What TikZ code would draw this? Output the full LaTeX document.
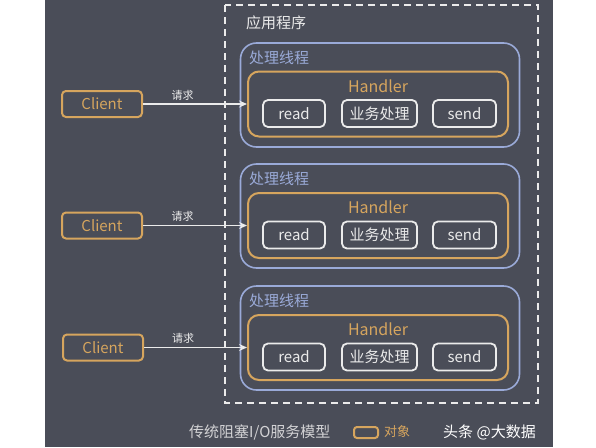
\documentclass[tikz,border=0pt]{standalone}
\usepackage{fontspec}
\setmainfont{Noto Sans CJK SC}
\usetikzlibrary{arrows.meta}
\definecolor{fond}{HTML}{4A4D58}
\definecolor{orangeobj}{HTML}{D6A55E}
\definecolor{bleufil}{HTML}{9AAAD8}
\definecolor{blanc}{HTML}{EBEBEB}
\tikzset{
  client/.style={draw=orangeobj,line width=2pt,rounded corners=4pt,
    minimum width=80,minimum height=26,inner sep=0pt,text=orangeobj,font=\fontsize{15}{15}\selectfont},
  thread/.style={draw=bleufil,line width=1.6pt,rounded corners=16pt,
    minimum width=279,minimum height=104,inner sep=0pt},
  threadlabel/.style={text=bleufil,font=\fontsize{15}{15}\selectfont,inner sep=0pt},
  handler/.style={draw=orangeobj,line width=2pt,rounded corners=11pt,
    minimum width=260,minimum height=65,inner sep=0pt},
  handlerlabel/.style={text=orangeobj,font=\fontsize{16}{16}\selectfont,inner sep=0pt},
  op/.style={draw=blanc,line width=1.8pt,rounded corners=5pt,
    minimum height=27,inner sep=0pt,text=blanc,font=\fontsize{15}{15}\selectfont},
  req/.style={draw=blanc,line width=1.5pt,-{Stealth[length=8pt,width=7pt]}},
  reqlabel/.style={text=blanc,font=\fontsize{11}{11}\selectfont,inner sep=3pt}
}
\begin{document}
\begin{tikzpicture}[x=1pt,y=-1pt]
  \useasboundingbox (0,0) rectangle (596,447);
  \fill[fond] (45,0) rectangle (553,447);

  % application
  \draw[blanc,line width=1.6pt,dash pattern=on 7pt off 5pt] (225,5) rectangle (538,403);
  \node[text=blanc,font=\fontsize{15}{15}\selectfont,anchor=west,inner sep=0pt] (app) at (246,23) {应用程序};

  % thread 1
  \node[thread] (t1) at (380,95) {};
  \node[threadlabel,anchor=west] (lt1) at (249,58) {处理线程};
  \node[handler] (h1) at (378,104) {};
  \node[handlerlabel] (lh1) at (378,86) {Handler};
  \node[op,minimum width=62] (r1) at (294,113.5) {read};
  \node[op,minimum width=75] (b1) at (379.5,113.5) {业务处理};
  \node[op,minimum width=63] (s1) at (464.5,113.5) {send};
  \node[client] (c1) at (102,104) {Client};
  \draw[req] (c1) -- node[pos=0.38,above,reqlabel] {请求} (h1.west);

  % thread 2
  \node[thread] (t2) at (380,216) {};
  \node[threadlabel,anchor=west] (lt2) at (249,179) {处理线程};
  \node[handler] (h2) at (378,225.5) {};
  \node[handlerlabel] (lh2) at (378,207.5) {Handler};
  \node[op,minimum width=62] (r2) at (294,235) {read};
  \node[op,minimum width=75] (b2) at (379.5,235) {业务处理};
  \node[op,minimum width=63] (s2) at (464.5,235) {send};
  \node[client] (c2) at (102,225.5) {Client};
  \draw[req] (c2) -- node[pos=0.38,above,reqlabel] {请求} (h2.west);

  % thread 3
  \node[thread] (t3) at (380,338) {};
  \node[threadlabel,anchor=west] (lt3) at (249,301) {处理线程};
  \node[handler] (h3) at (378,347.5) {};
  \node[handlerlabel] (lh3) at (378,329.5) {Handler};
  \node[op,minimum width=62] (r3) at (294,357) {read};
  \node[op,minimum width=75] (b3) at (379.5,357) {业务处理};
  \node[op,minimum width=63] (s3) at (464.5,357) {send};
  \node[client] (c3) at (103,347.5) {Client};
  \draw[req] (c3) -- node[pos=0.38,above,reqlabel] {请求} (h3.west);

  % legend
  \node[text=blanc!85!fond,font=\fontsize{15}{15}\selectfont,anchor=west,inner sep=0pt] (titre) at (189,432) {传统阻塞I/O服务模型};
  \node[draw=orangeobj,line width=2pt,rounded corners=3pt,minimum width=24,minimum height=11,inner sep=0pt] (leg) at (366,432.5) {};
  \node[text=orangeobj,font=\fontsize{13}{13}\selectfont,anchor=west,inner sep=0pt] (legtxt) at (384,432) {对象};
  \node[text=white,font=\fontsize{15}{15}\selectfont,anchor=west,inner sep=0pt] (marque) at (443,432) {头条 @大数据};
\end{tikzpicture}
\end{document}
